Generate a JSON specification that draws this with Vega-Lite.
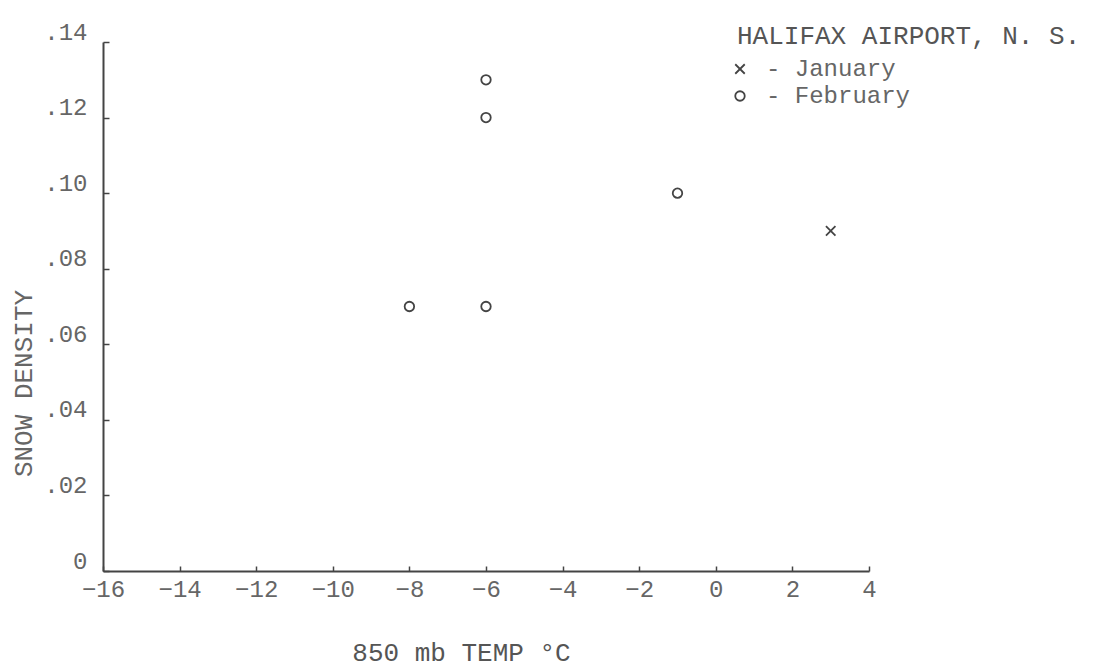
{
  "$schema": "https://vega.github.io/schema/vega-lite/v6.json",
  "width": 766,
  "height": 529,
  "autosize": {"type": "none"},
  "padding": {"left": 103, "top": 42, "right": 225, "bottom": 97},
  "background": "white",
  "config": {"view": {"stroke": null}, "font": "Liberation Mono"},
  "data": {
    "values": [
      {"temp": -8, "density": 0.07, "month": "February"},
      {"temp": -6, "density": 0.07, "month": "February"},
      {"temp": -6, "density": 0.12, "month": "February"},
      {"temp": -6, "density": 0.13, "month": "February"},
      {"temp": -1, "density": 0.10, "month": "February"},
      {"temp": 3, "density": 0.09, "month": "January"}
    ]
  },
  "mark": {"type": "point", "filled": false, "strokeWidth": 1.8, "size": 90, "opacity": 1},
  "encoding": {
    "x": {
      "field": "temp",
      "type": "quantitative",
      "scale": {"domain": [-16, 4], "nice": false, "zero": false},
      "axis": {
        "values": [-16, -14, -12, -10, -8, -6, -4, -2, 0, 2, 4],
        "grid": false,
        "title": "850 mb TEMP °C",
        "titleX": 358,
        "titleY": 81,
        "titleAlign": "center",
        "titleBaseline": "middle",
        "titleFontSize": 26,
        "titleFontWeight": "normal",
        "titleColor": "#555",
        "titleFont": "Liberation Mono",
        "labelFont": "Liberation Mono",
        "labelFontSize": 24,
        "labelColor": "#666",
        "labelPadding": 11,
        "labelFlush": false,
        "labelOverlap": false,
        "tickSize": -5,
        "tickColor": "#444",
        "tickWidth": 1.5,
        "domainColor": "#444",
        "domainWidth": 2
      }
    },
    "y": {
      "field": "density",
      "type": "quantitative",
      "scale": {"domain": [0, 0.14], "nice": false, "zero": true},
      "axis": {
        "values": [0, 0.02, 0.04, 0.06, 0.08, 0.1, 0.12, 0.14],
        "labelExpr": "datum.value == 0 ? '0' : replace(format(datum.value, '.2f'), '0.', '.')",
        "grid": false,
        "title": "SNOW DENSITY",
        "titleX": -80,
        "titleY": 341,
        "titleAngle": -90,
        "titleAlign": "center",
        "titleBaseline": "middle",
        "titleFontSize": 26,
        "titleFontWeight": "normal",
        "titleColor": "#666",
        "titleFont": "Liberation Mono",
        "labelFont": "Liberation Mono",
        "labelFontSize": 24,
        "labelColor": "#666",
        "labelPadding": 22,
        "labelOffset": -10,
        "labelFlush": false,
        "labelOverlap": false,
        "tickSize": -6,
        "tickColor": "#444",
        "tickWidth": 1.5,
        "domainColor": "#444",
        "domainWidth": 2
      }
    },
    "shape": {
      "field": "month",
      "type": "nominal",
      "scale": {"domain": ["January", "February"], "range": ["M-1,-1L1,1M1,-1L-1,1", "circle"]},
      "legend": {
        "orient": "none",
        "legendX": 634,
        "legendY": -19,
        "title": "HALIFAX AIRPORT, N. S.",
        "titleLimit": 600,
        "titleFont": "Liberation Mono",
        "titleFontSize": 26,
        "titleFontWeight": "normal",
        "titleColor": "#555",
        "titlePadding": 8,
        "labelFont": "Liberation Mono",
        "labelFontSize": 24,
        "labelColor": "#666",
        "labelLimit": 400,
        "labelExpr": "'- ' + datum.label",
        "labelOffset": 14,
        "symbolOffset": -9,
        "symbolSize": 90,
        "symbolStrokeWidth": 1.8,
        "symbolStrokeColor": "#444",
        "symbolFillColor": "transparent",
        "rowPadding": 3,
        "padding": 0
      }
    },
    "color": {"value": "#444"}
  }
}
